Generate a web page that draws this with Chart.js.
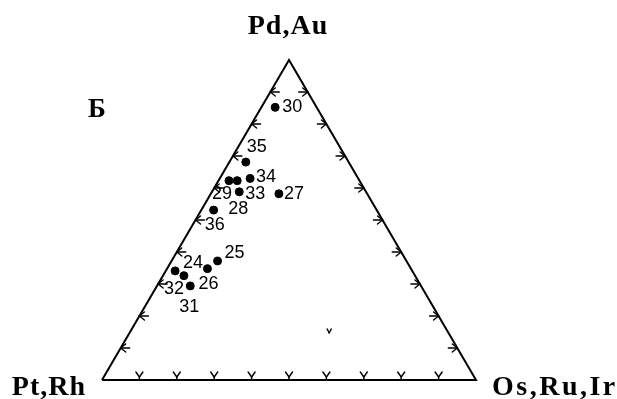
<!DOCTYPE html>
<html>
<head>
<meta charset="utf-8">
<script src="https://cdn.jsdelivr.net/npm/chart.js@4"></script>
<style>html,body{margin:0;padding:0;background:#fff}</style>
</head>
<body>
<canvas id="tri" width="617" height="399"></canvas>
<script>
// ternary plot Pd,Au - Pt,Rh - Os,Ru,Ir (panel Б)
const cornerNames = ['Pd,Au', 'Pt,Rh', 'Os,Ru,Ir'];
const panelLetter = 'Б';
const sampleIds = ['30', '35', '34', '29', '33', '27', '28', '36', '25', '24', '26', '32', '31'];
const pdAu   = [85.2, 68.1, 63.0, 62.3, 58.8, 58.2, 62.3, 53.1, 37.2, 34.1, 34.8, 32.6, 29.4];
const ptRh   = [11.1, 27.5, 28.9, 34.9, 33.9, 23.6, 32.7, 43.6, 50.5, 63.4, 54.4, 61.8, 61.7];
const osRuIr = [ 3.7,  4.4,  8.1,  2.8,  7.3, 18.2,  5.0,  3.3, 12.3,  2.5, 10.8,  5.6,  8.9];
const tickSteps = [10, 20, 30, 40, 50, 60, 70, 80, 90];
// lone "v" mark inside the triangle
const strayPd = 14.7, strayOs = 53.4;

// label offsets in px from each dot
const labelShift = [[17, 0], [11, -15], [16, -1], [-7, 13], [16, 2], [15, 0], [1, 28],
                    [1, 15], [17, -8], [18, -8], [1, 15], [-10, 13], [-1, 21]];

const H = 86.6;
function toXY(pd, os, pt) {
  const s = pd + os + (pt === undefined ? 100 - pd - os : pt);
  return { x: (os + pd / 2) / s * 100, y: pd / s * H };
}

const samplePoints = sampleIds.map((id, i) => toXY(pdAu[i], osRuIr[i], ptRh[i]));
const frame = [toXY(0, 0), toXY(0, 100), toXY(100, 0), toXY(0, 0)];

const decor = {
  id: 'decor',
  afterDatasetsDraw(chart) {
    const { ctx, scales: { x, y } } = chart;
    const px = p => ({ x: x.getPixelForValue(p.x), y: y.getPixelForValue(p.y) });
    ctx.save();
    ctx.strokeStyle = '#000';
    ctx.lineWidth = 1.4;
    ctx.lineCap = 'round';
    function seg(a, b) { ctx.beginPath(); ctx.moveTo(a[0], a[1]); ctx.lineTo(b[0], b[1]); ctx.stroke(); }
    tickSteps.forEach(t => {
      // left edge, arrows pointing left
      let p = px(toXY(t, 0));
      seg([p.x, p.y], [p.x + 9, p.y]);
      seg([p.x, p.y], [p.x + 5, p.y - 4]);
      seg([p.x, p.y], [p.x + 5, p.y + 4]);
      // right edge, arrows pointing right
      p = px(toXY(t, 100 - t));
      seg([p.x, p.y], [p.x - 9, p.y]);
      seg([p.x, p.y], [p.x - 5, p.y - 4]);
      seg([p.x, p.y], [p.x - 5, p.y + 4]);
      // bottom edge, small "Y"
      p = px(toXY(0, t));
      seg([p.x, p.y], [p.x, p.y - 3]);
      seg([p.x, p.y - 3], [p.x - 3.5, p.y - 8]);
      seg([p.x, p.y - 3], [p.x + 3.5, p.y - 8]);
    });
    const sm = px(toXY(strayPd, strayOs));
    seg([sm.x, sm.y], [sm.x - 2, sm.y - 4]);
    seg([sm.x, sm.y], [sm.x + 2, sm.y - 4]);

    // sample numbers
    ctx.fillStyle = '#000';
    ctx.font = '18px "Liberation Sans", Arial, sans-serif';
    ctx.textAlign = 'center';
    ctx.textBaseline = 'middle';
    samplePoints.forEach((pt, i) => {
      const p = px(pt);
      ctx.fillText(sampleIds[i], p.x + labelShift[i][0], p.y + labelShift[i][1]);
    });

    // corner names
    ctx.font = 'bold 28px "Liberation Serif", "Times New Roman", serif';
    ctx.letterSpacing = '1px';
    ctx.textBaseline = 'alphabetic';
    const top = px(toXY(100, 0)), left = px(toXY(0, 0)), right = px(toXY(0, 100));
    ctx.textAlign = 'center';
    ctx.fillText(cornerNames[0], top.x - 1, top.y - 26);
    ctx.textAlign = 'right';
    ctx.fillText(cornerNames[1], left.x - 16, left.y + 15);
    ctx.letterSpacing = '2.5px';
    ctx.textAlign = 'left';
    ctx.fillText(cornerNames[2], right.x + 16, right.y + 15);
    ctx.letterSpacing = '0px';
    ctx.font = 'bold 27px "Liberation Serif", "Times New Roman", serif';
    ctx.textAlign = 'center';
    ctx.fillText(panelLetter, 97, 117);
    ctx.restore();
  }
};

new Chart(document.getElementById('tri'), {
  type: 'scatter',
  data: {
    datasets: [
      {
        type: 'line',
        data: frame,
        borderColor: '#000',
        borderWidth: 2,
        pointRadius: 0,
        fill: false,
        tension: 0,
        clip: false
      },
      {
        data: samplePoints,
        backgroundColor: '#000',
        borderColor: '#000',
        pointRadius: 4,
        clip: false
      }
    ]
  },
  options: {
    responsive: false,
    animation: false,
    layout: { padding: { left: 102, right: 141, top: 60, bottom: 19 } },
    plugins: { legend: { display: false }, tooltip: { enabled: false } },
    scales: {
      x: { type: 'linear', min: 0, max: 100, display: false },
      y: { type: 'linear', min: 0, max: H, display: false }
    }
  },
  plugins: [decor]
});
</script>
</body>
</html>
